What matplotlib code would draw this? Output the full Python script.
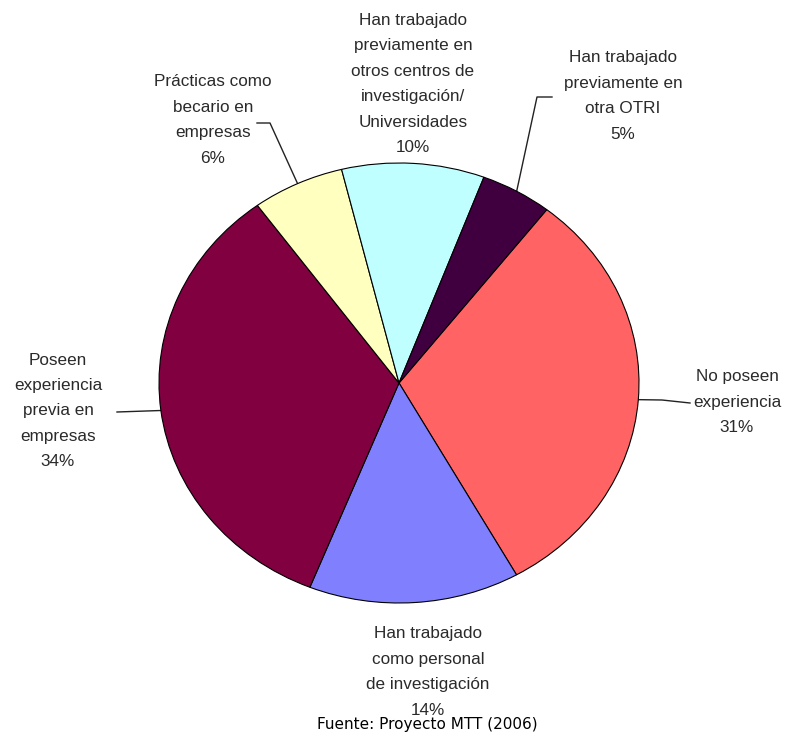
import matplotlib
matplotlib.use("Agg")
import matplotlib.pyplot as plt
import numpy as np

# slice data, clockwise from the "No poseen" slice
labels = ["No poseen\nexperiencia",
          "Han trabajado\ncomo personal\nde investigación",
          "Poseen\nexperiencia\nprevia en\nempresas",
          "Prácticas como\nbecario en\nempresas",
          "Han trabajado\npreviamente en\notros centros de\ninvestigación/\nUniversidades",
          "Han trabajado\npreviamente en\notra OTRI"]
values = [31.3, 14.2, 33.9, 6.2, 9.6, 4.8]
colors = ["#ff6363", "#8080ff", "#800040", "#ffffc0", "#c0ffff", "#400040"]
source = "Fuente: Proyecto MTT (2006)"

# layout (pixels, origin top-left)
W, H = 793, 740
CX, CY, RX, RY = 399, 383, 240, 220
label_pos = [(737, 402), (428, 672), (58, 411), (213, 120), (413, 84), (623, 96)]
leaders = [[(690, 403), (662, 400)], None, [(117, 412)], [(257, 123), (270, 123)],
           None, [(552, 97), (537, 97)]]

fig = plt.figure(figsize=(W / 100, H / 100), dpi=100)
ax = fig.add_axes([(CX - RX) / W, (H - CY - RY) / H, 2 * RX / W, 2 * RY / H])
wedges, _ = ax.pie(values, colors=colors, startangle=52, counterclock=False,
                   wedgeprops=dict(edgecolor="black", linewidth=0.8))
ax.set_aspect("auto")
ax.set_xlim(-1, 1); ax.set_ylim(-1, 1)
ax.axis("off")

ov = fig.add_axes([0, 0, 1, 1], zorder=-1)
ov.set_xlim(0, W); ov.set_ylim(H, 0); ov.axis("off")

for w, lab, v, pos, ld in zip(wedges, labels, values, label_pos, leaders):
    ov.text(pos[0], pos[1], f"{lab}\n{round(v)}%", ha="center", va="center",
            multialignment="center", fontsize=12.3, family="Liberation Sans",
            color="#2a2a2a", linespacing=1.87)
    if ld:
        mid = np.deg2rad((w.theta1 + w.theta2) / 2)
        pts = ld + [(CX + RX * np.cos(mid), CY - RY * np.sin(mid))]
        ov.plot([p[0] for p in pts], [p[1] for p in pts], color="#222222", lw=1)

ov.text(427, 725, source, ha="center", va="center", fontsize=11, family="DejaVu Sans", color="black")

fig.savefig("out.png", dpi=100, facecolor="white")
